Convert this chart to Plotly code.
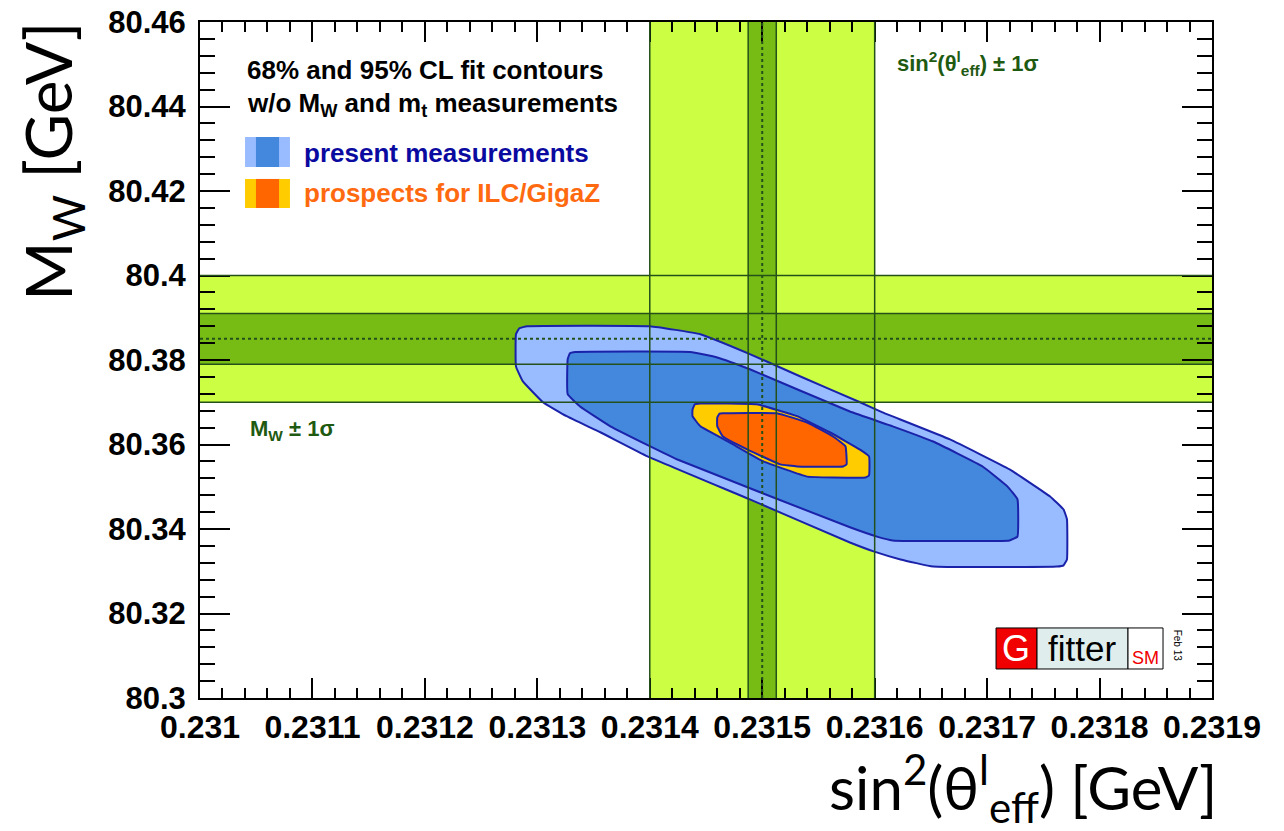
import plotly.graph_objects as go

# ---------------- data ----------------
x_range = [0.231, 0.2319]
y_range = [80.30, 80.46]
x_tickvals = [0.231, 0.2311, 0.2312, 0.2313, 0.2314, 0.2315, 0.2316, 0.2317, 0.2318, 0.2319]
x_ticktext = ["0.231", "0.2311", "0.2312", "0.2313", "0.2314", "0.2315", "0.2316", "0.2317", "0.2318", "0.2319"]
y_tickvals = [80.30, 80.32, 80.34, 80.36, 80.38, 80.40, 80.42, 80.44, 80.46]
y_ticktext = ["80.3", "80.32", "80.34", "80.36", "80.38", "80.4", "80.42", "80.44", "80.46"]

sin2_center = 0.23150
sin2_wide = 0.00010
sin2_narrow = 0.0000125
mw_center = 80.385
mw_wide = 0.015
mw_narrow = 0.006

# present measurements, 95% CL
present95_x = [0.231281, 0.231284, 0.231291, 0.231400, 0.231445, 0.231489, 0.231534, 0.231587,
               0.231607, 0.231667, 0.231720, 0.231756, 0.231768, 0.231771, 0.231771, 0.231768,
               0.231762, 0.231652, 0.231623, 0.231599, 0.231578, 0.231489, 0.231398, 0.231356,
               0.231326, 0.231305, 0.231287, 0.231281]
present95_y = [80.3861, 80.3875, 80.3880, 80.3880, 80.3861, 80.3814, 80.3761, 80.3700,
               80.3676, 80.3612, 80.3541, 80.3477, 80.3446, 80.3423, 80.3328, 80.3314,
               80.3311, 80.3311, 80.3328, 80.3347, 80.3368, 80.3470, 80.3572, 80.3629,
               80.3667, 80.3700, 80.3750, 80.3785]
# present measurements, 68% CL
present68_x = [0.231327, 0.231329, 0.231334, 0.231436, 0.231460, 0.231489, 0.231578, 0.231616,
               0.231652, 0.231696, 0.231718, 0.231727, 0.231727, 0.231720, 0.231616, 0.231602,
               0.231578, 0.231424, 0.231400, 0.231365, 0.231338, 0.231327]
present68_y = [80.3802, 80.3816, 80.3819, 80.3819, 80.3806, 80.3778, 80.3678, 80.3643,
               80.3607, 80.3548, 80.3501, 80.3470, 80.3382, 80.3373, 80.3373, 80.3382,
               80.3404, 80.3565, 80.3596, 80.3643, 80.3690, 80.3719]
# ILC/GigaZ prospects, 95% CL
ilc95_x = [0.231438, 0.231440, 0.231445, 0.231495, 0.231531, 0.231560, 0.231587, 0.231595,
           0.231595, 0.231592, 0.231563, 0.231540, 0.231501, 0.231471, 0.231445, 0.231438]
ilc95_y = [80.3683, 80.3695, 80.3697, 80.3695, 80.3667, 80.3629, 80.3588, 80.3572,
           80.3527, 80.3522, 80.3522, 80.3524, 80.3560, 80.3605, 80.3643, 80.3667]
# ILC/GigaZ prospects, 68% CL
ilc68_x = [0.231460, 0.231462, 0.231465, 0.231513, 0.231540, 0.231563, 0.231574, 0.231575,
           0.231572, 0.231531, 0.231516, 0.231487, 0.231465, 0.231460]
ilc68_y = [80.3664, 80.3673, 80.3674, 80.3674, 80.3652, 80.3619, 80.3596, 80.3553,
           80.3548, 80.3548, 80.3553, 80.3588, 80.3619, 80.3643]

# ---------------- style ----------------
LIGHT_GREEN = "#CCFF44"
DARK_GREEN = "#77BB15"
EDGE_GREEN = "#24501A"
TEXT_GREEN = "#1F5A12"
LIGHT_BLUE = "#99BBFF"
MID_BLUE = "#4488DD"
OUTLINE = "#1A22AA"
YELLOW = "#FFCC00"
ORANGE = "#FF6600"
FONT = "Liberation Sans"
TFONT = "Lato"

fig = go.Figure()

shapes = []
# band fills (below traces)
shapes.append(dict(type="rect", xref="x", yref="y", x0=sin2_center - sin2_wide, x1=sin2_center + sin2_wide,
                   y0=y_range[0], y1=y_range[1], fillcolor=LIGHT_GREEN, line_width=0, layer="below"))
shapes.append(dict(type="rect", xref="x", yref="y", x0=x_range[0], x1=x_range[1],
                   y0=mw_center - mw_wide, y1=mw_center + mw_wide, fillcolor=LIGHT_GREEN,
                   line_width=0, layer="below"))
shapes.append(dict(type="rect", xref="x", yref="y", x0=sin2_center - sin2_narrow, x1=sin2_center + sin2_narrow,
                   y0=y_range[0], y1=y_range[1], fillcolor=DARK_GREEN, line_width=0, layer="below"))
shapes.append(dict(type="rect", xref="x", yref="y", x0=x_range[0], x1=x_range[1],
                   y0=mw_center - mw_narrow, y1=mw_center + mw_narrow, fillcolor=DARK_GREEN,
                   line_width=0, layer="below"))

# band edges (above traces)
for xv in [sin2_center - sin2_wide, sin2_center + sin2_wide, sin2_center - sin2_narrow, sin2_center + sin2_narrow]:
    shapes.append(dict(type="line", xref="x", yref="y", x0=xv, x1=xv, y0=y_range[0], y1=y_range[1],
                       line=dict(color=EDGE_GREEN, width=1.5), layer="above"))
for yv in [mw_center - mw_wide, mw_center + mw_wide, mw_center - mw_narrow, mw_center + mw_narrow]:
    shapes.append(dict(type="line", xref="x", yref="y", x0=x_range[0], x1=x_range[1], y0=yv, y1=yv,
                       line=dict(color=EDGE_GREEN, width=1.5), layer="above"))
# central dotted lines
shapes.append(dict(type="line", xref="x", yref="y", x0=sin2_center, x1=sin2_center, y0=y_range[0], y1=y_range[1],
                   line=dict(color=EDGE_GREEN, width=2, dash="dot"), layer="above"))
shapes.append(dict(type="line", xref="x", yref="y", x0=x_range[0], x1=x_range[1], y0=mw_center, y1=mw_center,
                   line=dict(color=EDGE_GREEN, width=2, dash="dot"), layer="above"))

# contours
for xs, ys, fc in [(present95_x, present95_y, LIGHT_BLUE), (present68_x, present68_y, MID_BLUE),
                   (ilc95_x, ilc95_y, YELLOW), (ilc68_x, ilc68_y, ORANGE)]:
    fig.add_trace(go.Scatter(x=xs + xs[:1], y=ys + ys[:1], mode="lines", fill="toself",
                             fillcolor=fc, line=dict(color=OUTLINE, width=2, shape="spline", smoothing=0.3),
                             hoverinfo="skip", showlegend=False))

# legend boxes (paper coords)
def pbox(x0, x1, y0, y1, c, line=None):
    d = dict(type="rect", xref="paper", yref="paper", x0=x0, x1=x1, y0=y0, y1=y1,
             fillcolor=c, layer="above")
    if line:
        d["line"] = dict(color=line, width=1)
    else:
        d["line_width"] = 0
    return d

shapes.append(pbox(0.0445, 0.0889, 0.7855, 0.8299, LIGHT_BLUE))
shapes.append(pbox(0.0553, 0.0781, 0.7855, 0.8299, MID_BLUE))
shapes.append(pbox(0.0445, 0.0889, 0.7249, 0.7678, YELLOW))
shapes.append(pbox(0.0553, 0.0781, 0.7249, 0.7678, ORANGE))
# Gfitter logo
shapes.append(pbox(0.7866, 0.8271, 0.0429, 0.1036, "#F00000", "black"))
shapes.append(pbox(0.8271, 0.9170, 0.0429, 0.1036, "#E0EDED", "black"))
shapes.append(pbox(0.9170, 0.9516, 0.0429, 0.1036, "white", "black"))

ann = []
def txt(x, y, text, size, color, xanchor="left", yanchor="middle", family=FONT, angle=0):
    ann.append(dict(x=x, y=y, xref="paper", yref="paper", text=text, showarrow=False,
                    xanchor=xanchor, yanchor=yanchor, textangle=angle,
                    font=dict(family=family, size=size, color=color)))

txt(0.0445, 0.9290, "<b>68% and 95% CL fit contours</b>", 26, "black")
txt(0.0445, 0.8780, "<b>w/o M<sub>W</sub> and m<sub>t</sub> measurements</b>", 26, "black")
txt(0.1008, 0.8062, "<b>present measurements</b>", 26, "#0A0AA0")
txt(0.1008, 0.7470, "<b>prospects for ILC/GigaZ</b>", 26, "#FF6A10")
txt(0.6868, 0.9380, "<b>sin<sup>2</sup>(θ<sup>l</sup><sub>eff</sub>) ± 1σ</b>", 22, TEXT_GREEN)
txt(0.0474, 0.3960, "<b>M<sub>W</sub> ± 1σ</b>", 22, TEXT_GREEN)
# logo texts
txt(0.8068, 0.0732, "G", 36, "white", xanchor="center")
txt(0.8720, 0.0732, "fitter", 35, "black", xanchor="center")
txt(0.9343, 0.0590, "SM", 18, "#F00000", xanchor="center")
txt(0.9660, 0.0780, "Feb 13", 10, "black", xanchor="center", angle=90)
# axis titles
txt(1.007, -0.1325, "sin<sup>2</sup>(θ<sup>l</sup><sub>eff</sub>) [GeV]", 60, "black",
    xanchor="right", family=TFONT)
txt(-0.146, 1.003, "M<sub>W</sub> [GeV]", 64, "black", xanchor="center", yanchor="top",
    family=TFONT, angle=-90)

axis_common = dict(showgrid=False, zeroline=False, showline=True, linecolor="black", linewidth=2,
                   mirror="allticks", ticks="inside", tickcolor="black", tickwidth=1.5,
                   automargin=False, ticklabeloverflow="allow")

# page body has an 8px margin: shrink the figure so the frame lands where the reference has it
fig.update_layout(
    width=1276, height=823,
    margin=dict(l=192, r=72, t=14, b=133),
    paper_bgcolor="white", plot_bgcolor="white",
    shapes=shapes, annotations=ann, showlegend=False,
    xaxis=dict(range=x_range, tickvals=x_tickvals, ticktext=x_ticktext, ticklen=20,
               tickfont=dict(family=FONT, size=32, color="black", weight="bold"),
               minor=dict(ticks="inside", ticklen=10, dtick=0.00002, tick0=0.231, tickcolor="black", tickwidth=1.5),
               **axis_common),
    yaxis=dict(range=y_range, tickvals=y_tickvals, ticktext=y_ticktext, ticklen=30, ticklabelstandoff=6,
               tickfont=dict(family=FONT, size=31, color="black", weight="bold"),
               minor=dict(ticks="inside", ticklen=15, dtick=0.004, tick0=80.3, tickcolor="black", tickwidth=1.5),
               **axis_common),
)

fig.write_html("out.html")
